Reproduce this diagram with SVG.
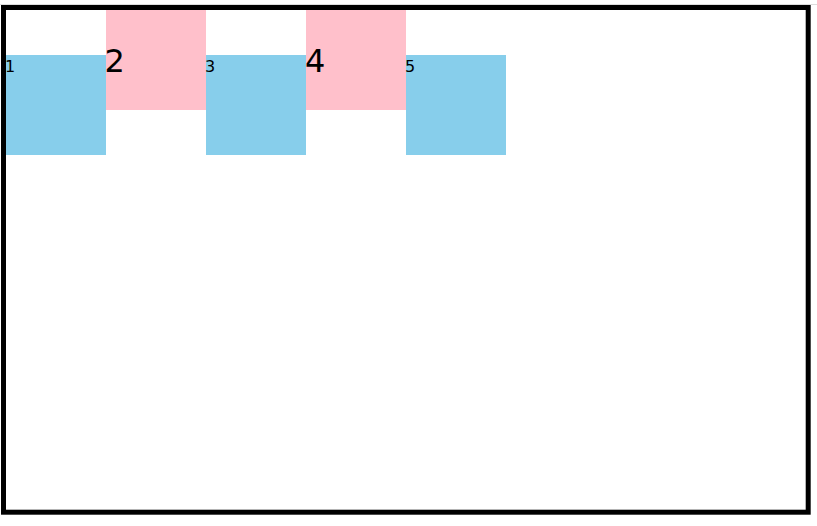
<svg xmlns="http://www.w3.org/2000/svg" width="817" height="526" viewBox="0 0 817 526">
<style>
.frame{fill:none;stroke:#000;stroke-width:5}
.blue{fill:#87CEEB}
.pink{fill:#FFC0CB}
.lbl{font-family:"DejaVu Sans",sans-serif;fill:#000}
.s{font-size:16px}
.b{font-size:32px}
</style>
<rect width="817" height="526" fill="#fff"/>
<rect x="0" y="4" width="817" height="1" fill="#ddd"/>
<rect class="frame" x="3.5" y="7.5" width="804.7" height="504.7"/>
<g id="node1"><rect class="blue" x="6" y="55" width="100" height="100"/><text class="lbl s" x="5" y="72">1</text></g>
<g id="node2"><rect class="pink" x="106" y="10" width="100" height="100"/><text class="lbl b" x="104.5" y="72">2</text></g>
<g id="node3"><rect class="blue" x="206" y="55" width="100" height="100"/><text class="lbl s" x="205" y="72">3</text></g>
<g id="node4"><rect class="pink" x="306" y="10" width="100" height="100"/><text class="lbl b" x="305" y="72">4</text></g>
<g id="node5"><rect class="blue" x="406" y="55" width="100" height="100"/><text class="lbl s" x="405" y="72">5</text></g>
<g id="connectors"></g>
</svg>
